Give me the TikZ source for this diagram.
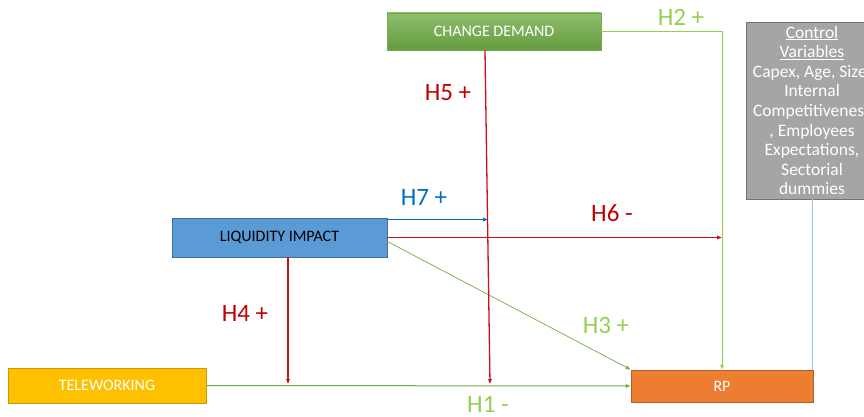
\documentclass[tikz,border=0pt]{standalone}
\usepackage{fontspec}
\setmainfont{Carlito}
\usetikzlibrary{arrows.meta}
\definecolor{hypred}{HTML}{C00000}
\definecolor{linkred}{HTML}{CC1020}
\definecolor{hypgreen}{HTML}{92D050}
\definecolor{linkgreen}{HTML}{70AD47}
\definecolor{hypblue}{HTML}{0070C0}
\definecolor{linkblue}{HTML}{0070C0}
\definecolor{liqblue}{HTML}{5B9BD5}
\definecolor{teleyellow}{HTML}{FFC000}
\definecolor{rporange}{HTML}{ED7D31}
\definecolor{ctrlgrey}{HTML}{A5A5A5}
\definecolor{ctrlline}{HTML}{9DC3E6}

\begin{document}
\begin{tikzpicture}[x=1pt,y=-1pt,
    box/.style={line width=.8pt,inner sep=0pt,
      font=\fontsize{16}{18}\selectfont},
    hyp/.style={font=\fontsize{25}{28}\selectfont},
    link/.style={line width=1pt,-{Triangle[length=5pt,width=3.5pt]}}]
    \useasboundingbox (0,0) rectangle (864,417);
    \node[box,draw=linkgreen,top color=linkgreen!80!white,bottom color=linkgreen!90!black,
      text=white,minimum width=214,minimum height=37] (change) at (494,31.5) {CHANGE DEMAND};
    \node[box,draw=liqblue!70!black,fill=liqblue,
      minimum width=215,minimum height=39] (liquidity) at (279.5,237.5) {LIQUIDITY IMPACT};
    \node[box,draw=teleyellow!80!black,fill=teleyellow,text=white,
      minimum width=198,minimum height=35] (telework) at (107,385.5) {TELEWORKING};
    \node[box,draw=rporange!75!black,fill=rporange,text=white,
      minimum width=182,minimum height=32] (rp) at (722,386) {RP};
    \node[box,draw=ctrlgrey!70!black,fill=ctrlgrey,
      minimum width=132,minimum height=177] (controls) at (812,110.5) {};
    \node[text=white,align=center,inner sep=0pt,
      font=\fontsize{17.5}{19.6}\selectfont] (ctrltext) at (controls.center)
      {\underline{Control}\\\underline{Variables}\\Capex, Age, Size,\\Internal\\
       Competitiveness\\, Employees\\Expectations,\\Sectorial\\dummies};
    \coordinate (h5end) at (490,384);
    \coordinate (h4end) at (288,384);
    \coordinate (h7end) at (488,219.5);
    \draw[ctrlline,line width=.6pt] (controls.south) -- (controls.south |- rp.north);
    \draw[link,hypgreen] (change.east) -| (rp.north);
    \draw[link,linkgreen] (telework.east) -- (rp.west);
    \draw[link,linkgreen,line width=.7pt] ([yshift=-4pt]liquidity.east) -- (rp.north west);
    \draw[link,linkred,line width=1.3pt] ([xshift=-9pt]change.south) -- (h5end);
    \draw[link,linkred,line width=1.3pt] (liquidity.south -| h4end) -- (h4end);
    \draw[link,linkred,line width=1.3pt] (liquidity.east) -- (liquidity.east -| rp.north);
    \draw[link,linkblue,line width=1.3pt] (liquidity.north east |- h7end) -- (h7end);
    \node[hyp,text=hypgreen] (lblh2) at (681,17) {H2 +};
    \node[hyp,text=hypred] (lblh5) at (448,93) {H5 +};
    \node[hyp,text=hypblue] (lblh7) at (424,197) {H7 +};
    \node[hyp,text=hypred] (lblh6) at (612,213) {H6 -};
    \node[hyp,text=hypred] (lblh4) at (245,313) {H4 +};
    \node[hyp,text=hypgreen] (lblh3) at (606,325) {H3 +};
    \node[hyp,text=hypgreen] (lblh1) at (488,404) {H1 -};
\end{tikzpicture}
\end{document}
